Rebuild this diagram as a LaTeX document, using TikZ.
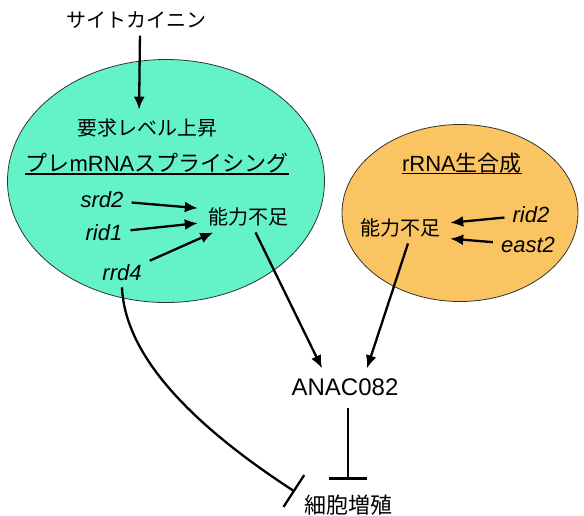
\documentclass[tikz,border=0pt]{standalone}
\usepackage{fontspec}
\setmainfont{Liberation Sans}
\newfontfamily\jp{Noto Sans CJK JP}
\usepackage{tikz}
\usetikzlibrary{shapes.geometric, arrows.meta, calc}
\definecolor{verdeagua}{RGB}{100,243,201}
\definecolor{naranja}{RGB}{250,196,98}
\tikzset{
  cluster/.style={ellipse, draw=black!80, line width=0.8pt, inner sep=0pt},
  jtext/.style={font=\jp\fontsize{20}{24}\selectfont, inner sep=3pt},
  header/.style={font=\fontsize{22}{26}\selectfont, inner sep=0pt},
  gene/.style={font=\itshape\fontsize{22}{26}\selectfont, inner xsep=8pt, inner ysep=6pt},
  deficit/.style={font=\jp\fontsize{20}{24}\selectfont, inner xsep=10pt, inner ysep=6pt},
  arrow/.style={line width=2.3pt, -{Latex[length=13pt, width=11pt]}},
  inhibit/.style={line width=2.3pt, -{Bar[width=38pt]}},
  uline/.style={line width=1.2pt}
}

\begin{document}
\begin{tikzpicture}[x=1pt, y=-1pt]
            \useasboundingbox (0,0) rectangle (584,515);

            % --- Elipses de fondo ---
            \node (splicing) [cluster, fill=verdeagua, minimum width=317pt, minimum height=243pt] at (166,181) {};
            \node (ribo) [cluster, fill=naranja, minimum width=236pt, minimum height=177pt] at (460,213) {};

            % --- Splicing del pre-mRNA ---
            \node (cyto) [jtext] at (136,20) {サイトカイニン};
            \node (demand) [jtext] at (147,128) {要求レベル上昇};
            \node (splhdr) [header] at (157,163) {{\jp プレ}mRNA{\jp スプライシング}};
            \node (srd2) [gene] at (102,200) {srd2};
            \node (rid1) [gene] at (104,233) {rid1};
            \node (rrd4) [gene] at (122,273) {rrd4};
            \node (def1) [deficit] at (248,217) {能力不足};

            \draw [uline] ([yshift=-2.5pt]splhdr.base west) -- ([yshift=-2.5pt]splhdr.base east);
            \draw [arrow, shorten <=4pt, shorten >=6pt] ([xshift=4pt]cyto.south) -- ([xshift=-8pt]demand.north);
            \draw [arrow] (srd2) -- (def1.170);
            \draw [arrow] (rid1) -- (def1.187);
            \draw [arrow] (rrd4) -- (def1.204);

            % --- Biogenesis del rRNA ---
            \node (rrnahdr) [header] at (462,163) {rRNA{\jp 生合成}};
            \node (def2) [deficit] at (400,228) {能力不足};
            \node (rid2) [gene] at (531,215) {rid2};
            \node (east2) [gene] at (528,245) {east2};

            \draw [uline] ([yshift=-2.5pt]rrnahdr.base west) -- ([yshift=-2.5pt]rrnahdr.base east);
            \draw [arrow] (rid2) -- (def2.6);
            \draw [arrow] (east2) -- (def2.-12);

            % --- ANAC082 y proliferacion ---
            \node (anac) [font=\fontsize{24}{28}\selectfont, inner xsep=3pt, inner ysep=10pt] at (345,387) {ANAC082};
            \node (prolif) [jtext, font=\jp\fontsize{22}{26}\selectfont] at (348,505) {細胞増殖};

            \draw [arrow] (def1) -- ([xshift=-23pt]anac.north);
            \draw [arrow] ([xshift=8pt]def2.south) -- ([xshift=22pt]anac.north);
            \draw [inhibit, shorten <=2pt, shorten >=12pt] (prolif.north |- anac.south) -- (prolif.north);
            \draw [inhibit] (rrd4.south) .. controls (125,360) and (200,430) .. ([xshift=-6pt]prolif.north west);

\end{tikzpicture}
\end{document}
